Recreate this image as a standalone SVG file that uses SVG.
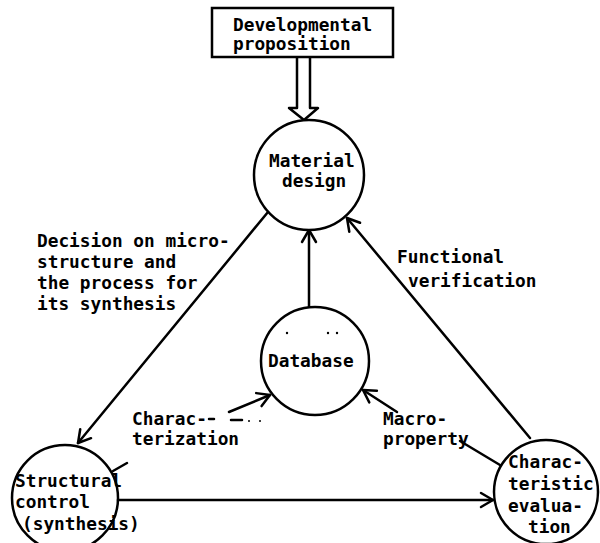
<svg xmlns="http://www.w3.org/2000/svg" width="600" height="543" viewBox="0 0 600 543">
<style>
text{font-family:"DejaVu Sans Mono","Liberation Mono",monospace;font-weight:bold;font-size:17.8px;fill:#000}
.ln{fill:none;stroke:#000;stroke-width:2.5;stroke-linecap:round;stroke-linejoin:round}
.nd{fill:#fff;stroke:#000;stroke-width:2.5}
</style>
<defs>
<marker id="ah" markerUnits="userSpaceOnUse" markerWidth="20" markerHeight="20" viewBox="-14 -10 16 20" refX="0" refY="0" orient="auto">
<path d="M-12,-7 L0,0 L-12,7" fill="none" stroke="#000" stroke-width="2.5" stroke-linecap="round" stroke-linejoin="round"/>
</marker>
</defs>
<rect width="600" height="543" fill="#fff"/>
<g id="connectors">
<path class="ln" d="M297,57 L297,108 L289,108 L304,120 L318,108 L310,108 L310,57"/>
<line class="ln" x1="268" y1="212" x2="78" y2="443" marker-end="url(#ah)"/>
<line class="ln" x1="530" y1="438" x2="347" y2="218" marker-end="url(#ah)"/>
<line class="ln" x1="309" y1="307" x2="309" y2="230" marker-end="url(#ah)"/>
<line class="ln" x1="229" y1="412" x2="270" y2="395" marker-end="url(#ah)"/>
<line class="ln" x1="397" y1="412" x2="363" y2="390" marker-end="url(#ah)"/>
<line class="ln" x1="460" y1="441" x2="500" y2="465"/>
<line class="ln" x1="118" y1="500" x2="493" y2="500" marker-end="url(#ah)"/>
<path class="ln" d="M113,471 L127,463"/>
<path class="ln" d="M209,419 L214,419 M231,420 L242,420" stroke-width="1.8"/>
<circle cx="249" cy="421" r="1" fill="#000"/>
<circle cx="260" cy="421" r="1" fill="#000"/>
</g>
<g id="proposition">
<rect x="212" y="8" width="181" height="49" class="nd"/>
<text x="233" y="31">Developmental</text>
<text x="233" y="50">proposition</text>
</g>
<g id="material-design">
<circle cx="309" cy="175" r="55" class="nd"/>
<text x="269" y="167">Material</text>
<text x="282" y="187">design</text>
</g>
<g id="database">
<circle cx="315" cy="361" r="54" class="nd"/>
<circle cx="287" cy="333" r="1.2" fill="#000"/>
<circle cx="328" cy="333" r="1.2" fill="#000"/>
<circle cx="337" cy="333" r="1.2" fill="#000"/>
<text x="268" y="367">Database</text>
</g>
<g id="structural-control">
<circle cx="65" cy="498" r="53" fill="none" stroke="#000" stroke-width="2.5"/>
<text x="15" y="487">Structural</text>
<text x="15" y="508">control</text>
<text x="22" y="530">(synthesis)</text>
</g>
<g id="characteristic-evaluation">
<circle cx="546" cy="492" r="52" fill="none" stroke="#000" stroke-width="2.5"/>
<text x="508" y="468">Charac-</text>
<text x="508" y="490">teristic</text>
<text x="508" y="512">evalua-</text>
<text x="528" y="533">tion</text>
</g>
<g id="labels">
<text x="37" y="247">Decision on micro-</text>
<text x="37" y="268">structure and</text>
<text x="37" y="289">the process for</text>
<text x="37" y="310">its synthesis</text>
<text x="397" y="263">Functional</text>
<text x="408" y="287">verification</text>
<text x="132" y="425">Charac-</text>
<text x="132" y="445">terization</text>
<text x="383" y="425">Macro-</text>
<text x="383" y="445">property</text>
</g>
</svg>
